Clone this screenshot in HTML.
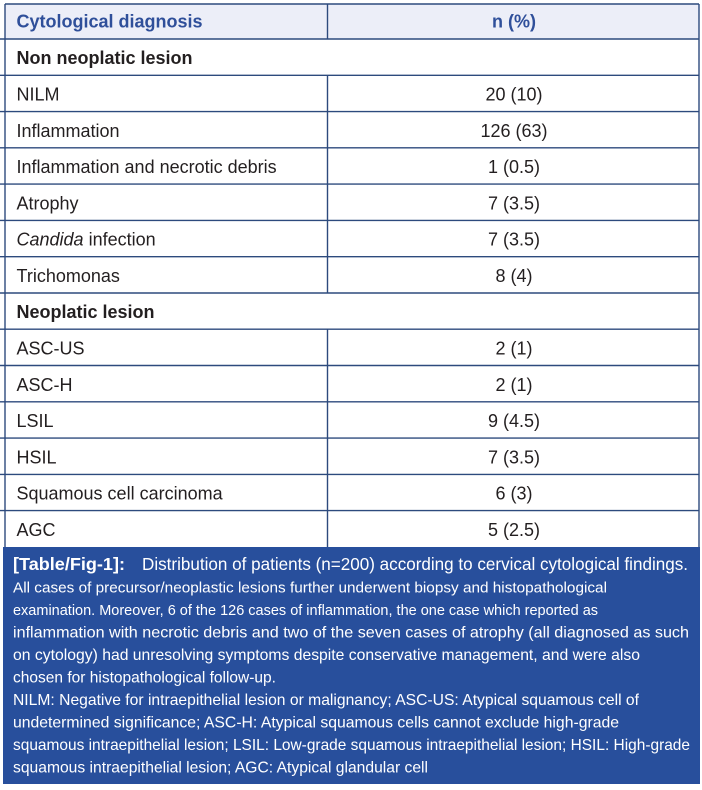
<!DOCTYPE html>
<html>
<head>
<meta charset="utf-8">
<style>
  html, body { margin:0; padding:0; background:#ffffff; }
  body { width:702px; height:790px; overflow:hidden; }
  svg { display:block; }
  .t { font-family:"Liberation Sans", Arial, sans-serif; font-size:18px; fill:#231f20; }
  .c { font-family:"Liberation Sans", Arial, sans-serif; fill:#ffffff; }
</style>
</head>
<body>
<svg width="702" height="790" viewBox="0 0 702 790" xmlns="http://www.w3.org/2000/svg">
  <rect x="0" y="0" width="702" height="790" fill="#ffffff"/>
  <rect x="5" y="4" width="694" height="35" fill="#eceef8"/>

  <g stroke="#2d4a7d" stroke-width="1.4" fill="none">
    <line x1="5" y1="4" x2="699" y2="4"/>
    <line x1="5" y1="4" x2="5" y2="547"/>
    <line x1="699" y1="4" x2="699" y2="547"/>
    <line x1="0" y1="39" x2="699" y2="39"/>
    <line x1="0" y1="75.3" x2="699" y2="75.3"/>
    <line x1="0" y1="111.6" x2="699" y2="111.6"/>
    <line x1="0" y1="147.8" x2="699" y2="147.8"/>
    <line x1="0" y1="184.1" x2="699" y2="184.1"/>
    <line x1="0" y1="220.4" x2="699" y2="220.4"/>
    <line x1="0" y1="256.7" x2="699" y2="256.7"/>
    <line x1="0" y1="293" x2="699" y2="293"/>
    <line x1="0" y1="329.2" x2="699" y2="329.2"/>
    <line x1="0" y1="365.5" x2="699" y2="365.5"/>
    <line x1="0" y1="401.8" x2="699" y2="401.8"/>
    <line x1="0" y1="438.1" x2="699" y2="438.1"/>
    <line x1="0" y1="474.4" x2="699" y2="474.4"/>
    <line x1="0" y1="510.6" x2="699" y2="510.6"/>
    <line x1="327.5" y1="4" x2="327.5" y2="39"/>
    <line x1="327.5" y1="75.3" x2="327.5" y2="293"/>
    <line x1="327.5" y1="329.2" x2="327.5" y2="547"/>
  </g>

  <text x="16.5" y="27.5" class="t" style="fill:#2f4f9a;font-weight:bold" textLength="186" lengthAdjust="spacingAndGlyphs">Cytological diagnosis</text>
  <text x="514" y="27.5" class="t" style="fill:#2f4f9a;font-weight:bold" text-anchor="middle">n (%)</text>

  <text x="16.5" y="64" class="t" style="font-weight:bold" textLength="176" lengthAdjust="spacingAndGlyphs">Non neoplatic lesion</text>

  <text x="16.5" y="100.5" class="t">NILM</text>
  <text x="514" y="100.5" class="t" text-anchor="middle">20 (10)</text>

  <text x="16.5" y="136.8" class="t">Inflammation</text>
  <text x="514" y="136.8" class="t" text-anchor="middle">126 (63)</text>

  <text x="16.5" y="173.1" class="t">Inflammation and necrotic debris</text>
  <text x="514" y="173.1" class="t" text-anchor="middle">1 (0.5)</text>

  <text x="16.5" y="209.4" class="t">Atrophy</text>
  <text x="514" y="209.4" class="t" text-anchor="middle">7 (3.5)</text>

  <text x="16.5" y="245.7" class="t"><tspan font-style="italic">Candida</tspan> infection</text>
  <text x="514" y="245.7" class="t" text-anchor="middle">7 (3.5)</text>

  <text x="16.5" y="282" class="t">Trichomonas</text>
  <text x="514" y="282" class="t" text-anchor="middle">8 (4)</text>

  <text x="16.5" y="318.2" class="t" style="font-weight:bold" textLength="138" lengthAdjust="spacingAndGlyphs">Neoplatic lesion</text>

  <text x="16.5" y="354.5" class="t">ASC-US</text>
  <text x="514" y="354.5" class="t" text-anchor="middle">2 (1)</text>

  <text x="16.5" y="390.8" class="t">ASC-H</text>
  <text x="514" y="390.8" class="t" text-anchor="middle">2 (1)</text>

  <text x="16.5" y="427.1" class="t">LSIL</text>
  <text x="514" y="427.1" class="t" text-anchor="middle">9 (4.5)</text>

  <text x="16.5" y="463.4" class="t">HSIL</text>
  <text x="514" y="463.4" class="t" text-anchor="middle">7 (3.5)</text>

  <text x="16.5" y="499.6" class="t">Squamous cell carcinoma</text>
  <text x="514" y="499.6" class="t" text-anchor="middle">6 (3)</text>

  <text x="16.5" y="535.9" class="t">AGC</text>
  <text x="514" y="535.9" class="t" text-anchor="middle">5 (2.5)</text>

  <rect x="3" y="547" width="697" height="237" fill="#284f9c"/>
  <text x="13" y="570" class="c" style="font-size:17.5px;font-weight:bold" textLength="112" lengthAdjust="spacingAndGlyphs">[Table/Fig-1]:</text>
  <text x="142" y="570" class="c" style="font-size:17.5px" textLength="546" lengthAdjust="spacingAndGlyphs">Distribution of patients (n=200) according to cervical cytological findings.</text>
  <text x="13" y="592.5" class="c" style="font-size:15.2px" textLength="594" lengthAdjust="spacingAndGlyphs">All cases of precursor/neoplastic lesions further underwent biopsy and histopathological</text>
  <text x="13" y="615" class="c" style="font-size:15.2px" textLength="585" lengthAdjust="spacingAndGlyphs">examination. Moreover, 6 of the 126 cases of inflammation, the one case which reported as</text>
  <text x="13" y="637.5" class="c" style="font-size:16px" textLength="676" lengthAdjust="spacingAndGlyphs">inflammation with necrotic debris and two of the seven cases of atrophy (all diagnosed as such</text>
  <text x="13" y="660" class="c" style="font-size:16px" textLength="627" lengthAdjust="spacingAndGlyphs">on cytology) had unresolving symptoms despite conservative management, and were also</text>
  <text x="13" y="682.5" class="c" style="font-size:16px" textLength="263" lengthAdjust="spacingAndGlyphs">chosen for histopathological follow-up.</text>
  <text x="13" y="705" class="c" style="font-size:16px" textLength="626" lengthAdjust="spacingAndGlyphs">NILM: Negative for intraepithelial lesion or malignancy; ASC-US: Atypical squamous cell of</text>
  <text x="13" y="727.5" class="c" style="font-size:16px" textLength="606" lengthAdjust="spacingAndGlyphs">undetermined significance; ASC-H: Atypical squamous cells cannot exclude high-grade</text>
  <text x="13" y="750" class="c" style="font-size:16px" textLength="677" lengthAdjust="spacingAndGlyphs">squamous intraepithelial lesion; LSIL: Low-grade squamous intraepithelial lesion; HSIL: High-grade</text>
  <text x="13" y="772.5" class="c" style="font-size:16px" textLength="415" lengthAdjust="spacingAndGlyphs">squamous intraepithelial lesion; AGC: Atypical glandular cell</text>
</svg>
</body>
</html>
